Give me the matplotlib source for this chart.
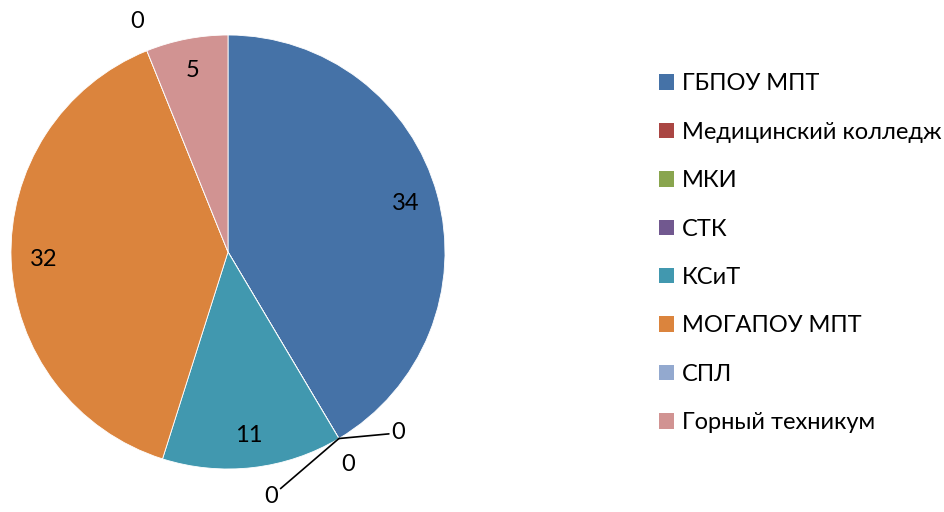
import numpy as np
import matplotlib
matplotlib.use("Agg")
from matplotlib import pyplot as plt

plt.rcParams['font.family'] = ['Lato', 'DejaVu Sans']

# данные
names = ["ГБПОУ МПТ", "Медицинский колледж", "МКИ", "СТК", "КСиТ",
         "МОГАПОУ МПТ", "СПЛ", "Горный техникум"]
values = [34, 0, 0, 0, 11, 32, 0, 5]
colors = ["#4572A7", "#AA4643", "#89A54E", "#71588F", "#4198AF",
          "#DB843D", "#93A9CF", "#D19392"]

fig = plt.figure(figsize=(9.44, 5.12), dpi=100)
ax = fig.add_axes([11 / 944, 43 / 512, 434 / 944, 434 / 512])

wedges, _ = ax.pie(values, colors=colors, startangle=90, counterclock=False,
                   radius=1, wedgeprops=dict(edgecolor="white", linewidth=0.6))
ax.set_xlim(-1, 1)
ax.set_ylim(-1, 1)
ax.set_aspect("equal")
ax.axis("off")

# подписи значений
zero_offsets = {1: (38, 4), 2: (7, -19), 3: (-44, -42), 6: (-7, 21)}
zero_lines = {1, 3}
for i, w in enumerate(wedges):
    mid = np.deg2rad((w.theta1 + w.theta2) / 2)
    if values[i] > 0:
        ax.text(0.85 * np.cos(mid), 0.85 * np.sin(mid), str(values[i]),
                ha="center", va="center", fontsize=17, color="black")
    else:
        px, py = np.cos(mid), np.sin(mid)
        dx, dy = zero_offsets[i]
        if i in zero_lines:
            ax.annotate(str(values[i]), xy=(px, py), xytext=(dx, dy),
                        textcoords="offset points", fontsize=17,
                        ha="left" if dx > 0 else "right", va="center",
                        arrowprops=dict(arrowstyle="-", color="black", lw=1.2,
                                        shrinkA=0, shrinkB=0),
                        annotation_clip=False)
        else:
            ax.annotate(str(values[i]), xy=(px, py), xytext=(dx, dy),
                        textcoords="offset points", fontsize=17,
                        ha="center", va="center", annotation_clip=False)

leg = fig.legend(wedges, names, loc="upper left", bbox_to_anchor=(650 / 944, 1 - 64 / 512),
                 frameon=False, fontsize=17, handlelength=0.62, handleheight=0.62,
                 handletextpad=0.35, labelspacing=1.16, borderaxespad=0)
for h in leg.legend_handles:
    h.set_edgecolor("none")

fig.savefig("out.png", dpi=100)
